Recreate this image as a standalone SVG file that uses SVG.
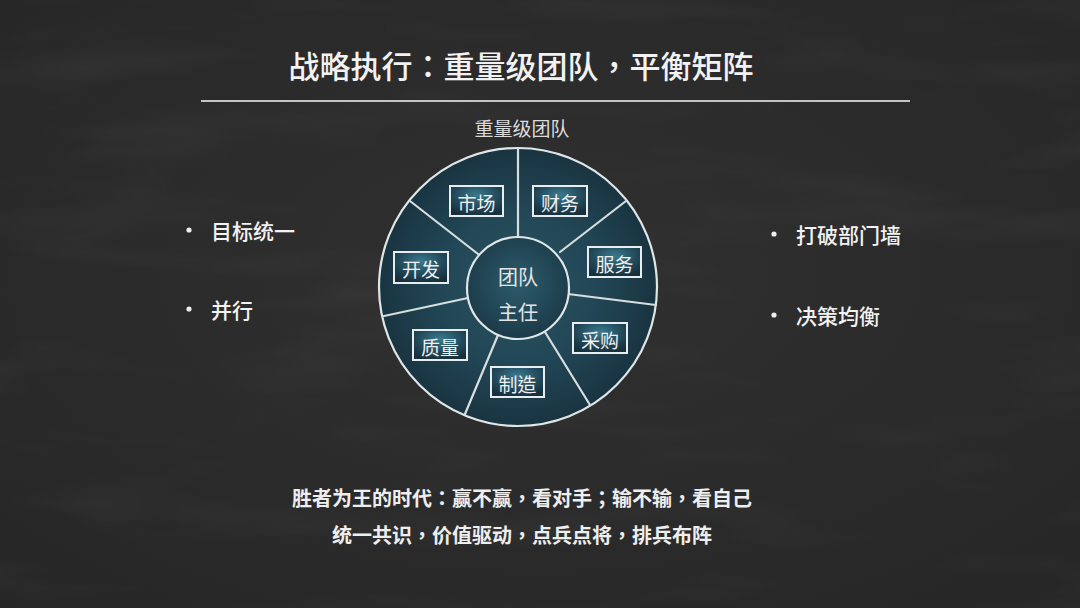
<svg xmlns="http://www.w3.org/2000/svg" width="1080" height="608" viewBox="0 0 1080 608">
  <defs>
    <radialGradient id="bg" cx="50%" cy="45%" r="75%">
      <stop offset="0" stop-color="#303030"/>
      <stop offset="1" stop-color="#262626"/>
    </radialGradient>
    <filter id="chalk" x="0" y="0" width="100%" height="100%">
      <feTurbulence type="fractalNoise" baseFrequency="0.004 0.02" numOctaves="3" seed="3" result="n"/>
      <feColorMatrix in="n" type="matrix" values="0 0 0 0 1  0 0 0 0 1  0 0 0 0 1  0 0 0 0.8 -0.4"/>
    </filter>
    <radialGradient id="wheel" cx="50%" cy="50%" r="50%">
      <stop offset="0" stop-color="#2b5666"/>
      <stop offset="0.6" stop-color="#214554"/>
      <stop offset="1" stop-color="#1a3441"/>
    </radialGradient>
    <radialGradient id="hub" cx="50%" cy="45%" r="55%">
      <stop offset="0" stop-color="#2d5c6d"/>
      <stop offset="1" stop-color="#1c3a48"/>
    </radialGradient>
    <radialGradient id="box" cx="50%" cy="30%" r="70%">
      <stop offset="0" stop-color="#3a7a8e"/>
      <stop offset="0.6" stop-color="#22495a"/>
      <stop offset="1" stop-color="#17303c"/>
    </radialGradient>
    <style>
      .cjk { font-family: "Noto Sans CJK TC", "Noto Sans CJK SC", sans-serif; fill: #f2f2f2; }
      .title { font-size: 31px; font-weight: 500; }
      .sub { font-size: 19px; fill: #dcdcdc; }
      .bullet { font-size: 21px; font-weight: 500; }
      .foot { font-size: 20px; font-weight: 700; fill: #eeeeee; }
      .lbl { font-size: 19px; fill: #f0f0f0; }
      .hubtxt { font-size: 20px; fill: #e6e6e6; }
      .spoke { stroke: #d7dee0; stroke-width: 2.2; stroke-linecap: round; }
      .lblbox { fill: url(#box); stroke: #e8eef0; stroke-width: 2; }
      .dot { fill: #eeeeee; }
    </style>
  </defs>

  <!-- background -->
  <rect width="1080" height="608" fill="url(#bg)"/>
  <rect width="1080" height="608" filter="url(#chalk)" opacity="0.12"/>

  <!-- title -->
  <g id="title">
    <text class="cjk title" x="521" y="64" text-anchor="middle" dominant-baseline="central">战略执行：重量级团队，平衡矩阵</text>
    <line x1="201" y1="101" x2="910" y2="101" stroke="#c4c4c4" stroke-width="2"/>
  </g>

  <text class="cjk sub" x="522" y="127" text-anchor="middle" dominant-baseline="central">重量级团队</text>

  <!-- wheel base -->
  <g id="wheel-base">
    <circle cx="518" cy="287" r="139" fill="url(#wheel)" stroke="#dfe6e8" stroke-width="2.2"/>
  </g>

  <!-- connectors (spokes) -->
  <g id="connectors">
    <line class="spoke" x1="518" y1="236" x2="518" y2="148"/>
    <line class="spoke" x1="560" y1="252" x2="626" y2="201"/>
    <line class="spoke" x1="568" y1="294" x2="656" y2="305"/>
    <line class="spoke" x1="545" y1="332" x2="590" y2="405"/>
    <line class="spoke" x1="498" y1="335" x2="465" y2="414"/>
    <line class="spoke" x1="468" y1="298" x2="384" y2="316"/>
    <line class="spoke" x1="478" y1="254" x2="410" y2="201"/>
  </g>

  <!-- hub -->
  <g id="hub-node">
    <circle cx="518" cy="288" r="51" fill="url(#hub)" stroke="#dfe6e8" stroke-width="2.2"/>
    <text class="cjk hubtxt" x="518" y="276" text-anchor="middle" dominant-baseline="central">团队</text>
    <text class="cjk hubtxt" x="518" y="311" text-anchor="middle" dominant-baseline="central">主任</text>
  </g>

  <g id="node-market">
    <rect class="lblbox" x="450" y="186" width="53" height="30"/>
    <text class="cjk lbl" x="476.5" y="202" text-anchor="middle" dominant-baseline="central">市场</text>
  </g>
  <g id="node-finance">
    <rect class="lblbox" x="533" y="186" width="54" height="30"/>
    <text class="cjk lbl" x="560" y="202" text-anchor="middle" dominant-baseline="central">财务</text>
  </g>
  <g id="node-service">
    <rect class="lblbox" x="588" y="247" width="53" height="30"/>
    <text class="cjk lbl" x="614.5" y="263" text-anchor="middle" dominant-baseline="central">服务</text>
  </g>
  <g id="node-purchase">
    <rect class="lblbox" x="573" y="323" width="54" height="30"/>
    <text class="cjk lbl" x="600" y="339" text-anchor="middle" dominant-baseline="central">采购</text>
  </g>
  <g id="node-manufacture">
    <rect class="lblbox" x="491" y="367" width="53" height="30"/>
    <text class="cjk lbl" x="517.5" y="383" text-anchor="middle" dominant-baseline="central">制造</text>
  </g>
  <g id="node-quality">
    <rect class="lblbox" x="413" y="330" width="54" height="30"/>
    <text class="cjk lbl" x="440" y="346" text-anchor="middle" dominant-baseline="central">质量</text>
  </g>
  <g id="node-develop">
    <rect class="lblbox" x="394" y="252" width="54" height="31"/>
    <text class="cjk lbl" x="421" y="268.5" text-anchor="middle" dominant-baseline="central">开发</text>
  </g>

  <!-- bullets left -->
  <g id="bullet-goal">
    <circle class="dot" cx="189" cy="230" r="2.6"/>
    <text class="cjk bullet" x="211" y="230" dominant-baseline="central">目标统一</text>
  </g>
  <g id="bullet-parallel">
    <circle class="dot" cx="189" cy="309" r="2.6"/>
    <text class="cjk bullet" x="211" y="309" dominant-baseline="central">并行</text>
  </g>
  <!-- bullets right -->
  <g id="bullet-wall">
    <circle class="dot" cx="774" cy="234" r="2.6"/>
    <text class="cjk bullet" x="796" y="234" dominant-baseline="central">打破部门墙</text>
  </g>
  <g id="bullet-balance">
    <circle class="dot" cx="774" cy="315" r="2.6"/>
    <text class="cjk bullet" x="796" y="315" dominant-baseline="central">决策均衡</text>
  </g>

  <!-- footer -->
  <g id="footer">
    <text class="cjk foot" x="522" y="497" text-anchor="middle" dominant-baseline="central">胜者为王的时代：赢不赢，看对手；输不输，看自己</text>
    <text class="cjk foot" x="522" y="534" text-anchor="middle" dominant-baseline="central">统一共识，价值驱动，点兵点将，排兵布阵</text>
  </g>
</svg>
